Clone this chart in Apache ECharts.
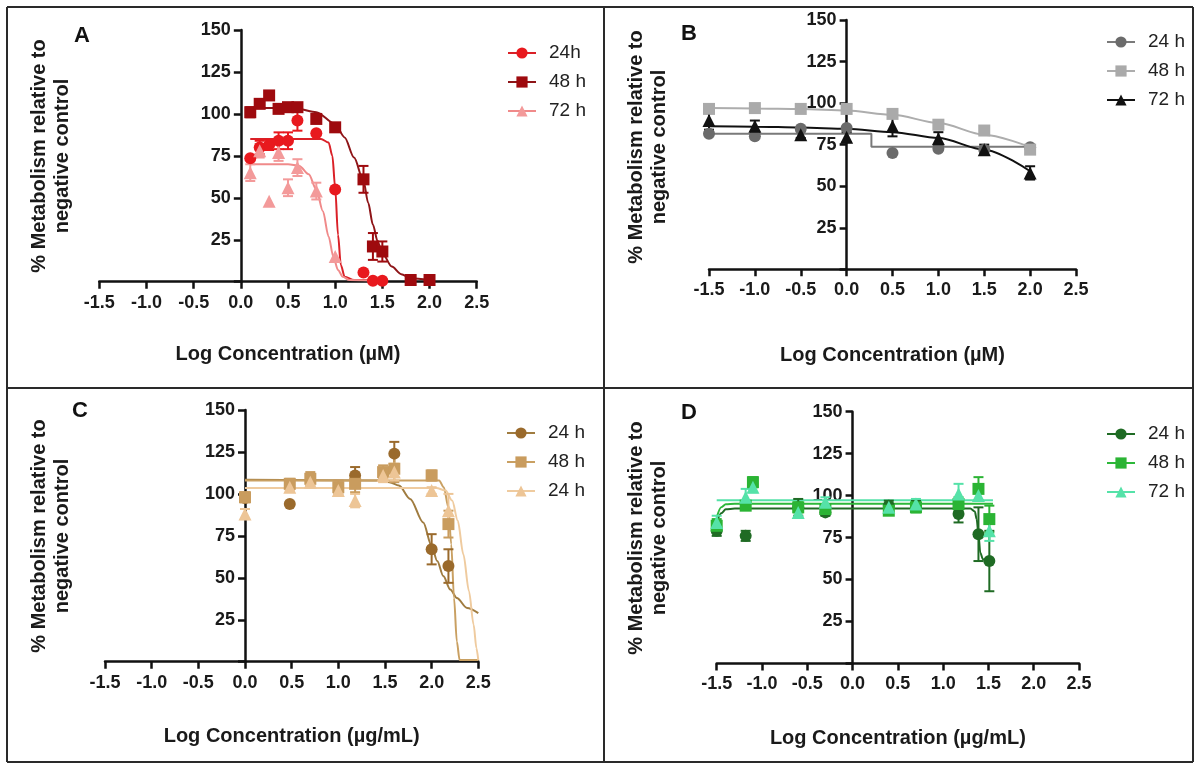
<!DOCTYPE html>
<html><head><meta charset="utf-8">
<script src="https://cdn.jsdelivr.net/npm/echarts@6/dist/echarts.min.js"></script>
<style>html,body{margin:0;padding:0;background:#fff}#c{width:1196px;height:765px}</style>
</head><body><div id="c"></div>
<script>
// ---------- tick labels ----------
const xTickLabels = ['-1.5','-1.0','-0.5','0.0','0.5','1.0','1.5','2.0','2.5'];
const yTickLabels = ['25','50','75','100','125','150'];

// ---------- Panel A (µM) ----------
const aLegend = ['24h','48 h','72 h'];
const aX24 = [0.1,0.2,0.3,0.4,0.5,0.6,0.8,1.0,1.3,1.4,1.5];
const aY24 = [73.5,80,81.5,84,84,96,88.5,55,5.5,0.5,0.5];
const aE24 = [0,4,3,5,5,6,0,0,0,0,0];
const aX48 = [0.1,0.2,0.3,0.4,0.5,0.6,0.8,1.0,1.3,1.4,1.5,1.8,2.0];
const aY48 = [101,106,111,103,104,104,97,92,61,21,18,1,1];
const aE48 = [3,0,0,0,0,0,0,0,8,8,6,0,0];
const aX72 = [0.1,0.2,0.3,0.4,0.5,0.6,0.8,1.0];
const aY72 = [65,78,48,77,56,68,54,15];
const aE72 = [5,4,0,5,5,5,5,0];
const aCurve24 = [[0.1,85],[0.5,85],[0.85,85],[0.93,83],[0.97,75],[1.0,56],[1.03,28],[1.06,10],[1.1,3],[1.2,1],[1.5,1]];
const aCurve48 = [[0.1,103.5],[0.4,103.5],[0.6,103],[0.8,101],[1.0,94],[1.1,86],[1.2,74],[1.3,60],[1.35,47],[1.4,34],[1.45,24],[1.5,17],[1.6,9],[1.7,4.5],[1.8,2],[2.0,1]];
const aCurve72 = [[0.1,70],[0.5,70],[0.62,69],[0.72,64],[0.8,55],[0.87,42],[0.93,27],[0.98,15],[1.03,7],[1.08,3],[1.15,1],[1.5,0.5]];

// ---------- Panel B (µM) ----------
const bLegend = ['24 h','48 h','72 h'];
const bX = [-1.5,-1.0,-0.5,0,0.5,1.0,1.5,2.0];
const bY24 = [81.5,80,84.5,85,70,72.5,72,73.5];
const bE24 = [0,0,0,0,0,0,0,0];
const bY48 = [96.5,97,96.5,96.5,93.5,87,83.5,72];
const bE48 = [0,0,0,0,0,0,0,0];
const bY72 = [89.5,86,81,79.5,86,78.5,72,58];
const bE72 = [5.5,3.5,2,3,6,4,3,4];
const bCurve24 = [[-1.5,81.5],[0.27,81.5],[0.27,73.8],[2.0,73.8]];
const bCurve48 = [[-1.5,97],[-1.0,96.8],[-0.5,96.5],[0,95.5],[0.5,93],[1.0,88],[1.5,81],[2.0,73.5]];
const bCurve72 = [[-1.5,86],[-1.0,85.8],[-0.5,85.3],[0,84.5],[0.5,82.5],[1.0,79],[1.5,72],[2.0,59]];

// ---------- Panel C (µg/mL) ----------
const cLegend = ['24 h','48 h','24 h'];
const cX24 = [0,0.48,1.18,1.6,2.0,2.18];
const cY24 = [97.5,94,111,124,67,57];
const cE24 = [0,0,5,7,9,10];
const cX48 = [0,0.48,0.7,1.0,1.18,1.48,1.6,2.0,2.18];
const cY48 = [98,106,109,104,106,113,115,111,82];
const cE48 = [3,3,4,4,5,4,8,3,8];
const cX72 = [0,0.48,0.7,1.0,1.18,1.48,1.6,2.0,2.18];
const cY72 = [88,104,107,102,96,111,113,102,90];
const cE72 = [3,2,3,3,4,4,5,2,10];
const cCurve24 = [[0,108.5],[1.45,108],[1.55,107],[1.65,105],[1.77,97],[1.91,83],[2.0,69],[2.06,60],[2.125,51],[2.2,43],[2.27,38],[2.38,32],[2.5,29]];
const cCurve48 = [[0,108],[2.08,108],[2.13,104],[2.18,92],[2.21,70],[2.24,38],[2.27,12],[2.3,1],[2.5,1]];
const cCurve72 = [[0,103.5],[2.05,103.5],[2.15,102],[2.22,96],[2.28,84],[2.34,64],[2.4,42],[2.45,22],[2.48,8],[2.5,1]];

// ---------- Panel D (µg/mL) ----------
const dLegend = ['24 h','48 h','72 h'];
const dX24 = [-1.5,-1.18,-0.6,-0.3,0.4,0.7,1.17,1.39,1.51];
const dY24 = [79,76,93,90,94,94,89,77,61];
const dE24 = [3,3,5,2,3,3,5,16,18];
const dX48 = [-1.5,-1.18,-1.1,-0.6,-0.3,0.4,0.7,1.17,1.39,1.51];
const dY48 = [82,94,108,93,92,91,93,95,104,86];
const dE48 = [4,2,3,3,3,2,3,4,7,8];
const dX72 = [-1.5,-1.18,-1.1,-0.6,-0.3,0.4,0.7,1.17,1.39,1.51];
const dY72 = [84,99,105,90,96,93,95,101,100,79];
const dE72 = [4,5,3,3,3,2,3,6,3,6];
const dCurve24 = [[-1.5,84],[-1.45,89.5],[-1.4,91.8],[-1.3,92.3],[1.3,92.3],[1.35,90.5],[1.37,86],[1.39,77],[1.41,66],[1.44,62],[1.5,60.5]];
const dCurve48 = [[-1.5,87],[-1.45,93],[-1.4,94.8],[-1.3,95.2],[1.55,95.2]];
const dCurve72 = [[-1.5,97.3],[1.55,97.3]];

// ---------- rendering ----------
const FONT = "'Liberation Sans', Arial, Helvetica, sans-serif";
const TXT = '#1a1a1a';
const X_MIN = -1.5, X_MAX = 2.5;
const chart = echarts.init(document.getElementById('c'), null, {renderer:'canvas'});

const grids = [
  {left:99.3, top:30, width:377.4, height:251.7},
  {left:709, top:20, width:367, height:249.3},
  {left:105, top:410, width:373.3, height:251.7},
  {left:716.7, top:411.7, width:362.3, height:251.7}
];

function xAx(i, name, gap) {
  return {
    gridIndex:i, type:'value', min:X_MIN, max:X_MAX, interval:0.5,
    name:name, nameLocation:'middle', nameGap:gap,
    nameTextStyle:{fontSize:20, fontWeight:'bold', color:TXT, fontFamily:FONT},
    axisLine:{onZero:false, lineStyle:{color:'#111', width:2.5}},
    axisTick:{show:true, length:7, lineStyle:{color:'#111', width:2.5}},
    axisLabel:{fontSize:18, fontWeight:'bold', color:TXT, fontFamily:FONT, margin:12,
      formatter:function(v){ const k = Math.round((v - X_MIN) / 0.5); return xTickLabels[k] || ''; }},
    splitLine:{show:false}
  };
}
function yAx(i) {
  // the y axis crosses the x axis at x = 0: shift it inward from the grid's left edge
  const g = grids[i];
  const shift = g.width * (0 - X_MIN) / (X_MAX - X_MIN);
  return {
    gridIndex:i, type:'value', min:0, max:150, interval:25, position:'left', offset:-shift,
    axisLine:{show:true, onZero:false, lineStyle:{color:'#111', width:2.5}},
    axisTick:{show:true, length:7, lineStyle:{color:'#111', width:2.5}},
    axisLabel:{fontSize:18, fontWeight:'bold', color:TXT, fontFamily:FONT, margin:10,
      formatter:function(v){ const k = Math.round(v / 25) - 1; return k >= 0 ? yTickLabels[k] : ''; }},
    splitLine:{show:false}
  };
}

const series = [];
function addGroup(p, key, color, lineColor, symbol, size, xs, ys, es, curve, smooth) {
  const name = key;
  series.push({
    type:'line', name:name, xAxisIndex:p, yAxisIndex:p, data:curve,
    showSymbol:false, symbol:symbol, symbolSize:size,
    smooth:smooth, smoothMonotone:'x',
    lineStyle:{color:lineColor, width:2}, itemStyle:{color:color},
    z:2, silent:true
  });
  series.push({
    type:'custom', name:name, xAxisIndex:p, yAxisIndex:p,
    data:xs.map((x,i)=>[x, ys[i], es[i]]),
    encode:{x:0, y:1}, z:3, silent:true,
    renderItem:function(params, api){
      const x = api.value(0), y = api.value(1), e = api.value(2);
      if (!e) return null;
      const t = api.coord([x, y + e]), b = api.coord([x, y - e]);
      const w = 5, st = {stroke:color, lineWidth:2};
      return {type:'group', children:[
        {type:'line', shape:{x1:t[0], y1:t[1], x2:b[0], y2:b[1]}, style:st},
        {type:'line', shape:{x1:t[0]-w, y1:t[1], x2:t[0]+w, y2:t[1]}, style:st},
        {type:'line', shape:{x1:b[0]-w, y1:b[1], x2:b[0]+w, y2:b[1]}, style:st}
      ]};
    }
  });
  series.push({
    type:'scatter', name:name, xAxisIndex:p, yAxisIndex:p,
    data:xs.map((x,i)=>[x, ys[i]]),
    symbol:symbol, symbolSize:size, itemStyle:{color:color, opacity:1}, z:4, silent:true
  });
}

// Panel A
addGroup(0, 'A1|'+aLegend[0], '#E8191E', '#DA2027', 'circle', 12, aX24, aY24, aE24, aCurve24, 0.3);
addGroup(0, 'A2|'+aLegend[1], '#9E0A0E', '#8E1518', 'rect', 12, aX48, aY48, aE48, aCurve48, 0.3);
addGroup(0, 'A3|'+aLegend[2], '#F39A9A', '#F08A8A', 'triangle', 13, aX72, aY72, aE72, aCurve72, 0.3);
// Panel B
addGroup(1, 'B1|'+bLegend[0], '#6B6B6B', '#7A7A7A', 'circle', 12, bX, bY24, bE24, bCurve24, false);
addGroup(1, 'B2|'+bLegend[1], '#AAAAAA', '#ADADAD', 'rect', 12, bX, bY48, bE48, bCurve48, 0.3);
addGroup(1, 'B3|'+bLegend[2], '#111111', '#111111', 'triangle', 13, bX, bY72, bE72, bCurve72, 0.3);
// Panel C
addGroup(2, 'C1|'+cLegend[0], '#9A6A2C', '#A07C40', 'circle', 12, cX24, cY24, cE24, cCurve24, 0.3);
addGroup(2, 'C2|'+cLegend[1], '#C99C5E', '#C9A062', 'rect', 12, cX48, cY48, cE48, cCurve48, 0.3);
addGroup(2, 'C3|'+cLegend[2], '#EDC596', '#EFCB9F', 'triangle', 13, cX72, cY72, cE72, cCurve72, 0.3);
// Panel D
addGroup(3, 'D1|'+dLegend[0], '#1F6B24', '#1F6B24', 'circle', 12, dX24, dY24, dE24, dCurve24, 0.3);
addGroup(3, 'D2|'+dLegend[1], '#2BB434', '#2DB83A', 'rect', 12, dX48, dY48, dE48, dCurve48, 0.3);
addGroup(3, 'D3|'+dLegend[2], '#55E2A8', '#55E2A8', 'triangle', 13, dX72, dY72, dE72, dCurve72, 0.3);

function legend(left, top, names) {
  return {
    orient:'vertical', left:left, top:top, itemWidth:28, itemHeight:14, itemGap:9,
    selectedMode:false, data:names,
    formatter:function(n){ return n.split('|')[1]; },
    textStyle:{fontSize:19, color:'#222', fontFamily:FONT, lineHeight:20, padding:[0,0,0,8]}
  };
}

function yTitle(x, y) {
  return {type:'text', x:x, y:y, rotation:Math.PI/2, silent:true,
    style:{text:'% Metabolism relative to\nnegative control', font:"bold 20px 'Liberation Sans', Arial, sans-serif",
      fill:TXT, align:'center', verticalAlign:'middle', lineHeight:23}};
}
function letter(x, y, t) {
  return {type:'text', x:x, y:y, silent:true,
    style:{text:t, font:"bold 22px 'Liberation Sans', Arial, sans-serif", fill:'#111', align:'center', verticalAlign:'middle'}};
}
function seg(x1,y1,x2,y2) {
  return {type:'line', silent:true, shape:{x1:x1,y1:y1,x2:x2,y2:y2}, style:{stroke:'#2a2a2a', lineWidth:2}};
}

const option = {
  animation:false,
  backgroundColor:'#ffffff',
  textStyle:{fontFamily:FONT},
  grid:grids,
  xAxis:[xAx(0,'Log Concentration (\u00b5M)',63), xAx(1,'Log Concentration (\u00b5M)',76),
         xAx(2,'Log Concentration (\u00b5g/mL)',65), xAx(3,'Log Concentration (\u00b5g/mL)',65)],
  yAxis:[yAx(0), yAx(1), yAx(2), yAx(3)],
  legend:[
    legend(502, 38, ['A1|'+aLegend[0],'A2|'+aLegend[1],'A3|'+aLegend[2]]),
    legend(1101, 27, ['B1|'+bLegend[0],'B2|'+bLegend[1],'B3|'+bLegend[2]]),
    legend(501, 418, ['C1|'+cLegend[0],'C2|'+cLegend[1],'C3|'+cLegend[2]]),
    legend(1101, 419, ['D1|'+dLegend[0],'D2|'+dLegend[1],'D3|'+dLegend[2]])
  ],
  graphic:[
    seg(7,7,1193,7), seg(7,7,7,762), seg(1193,7,1193,762), seg(7,762,1193,762),
    seg(604,7,604,762), seg(7,388,1193,388),
    yTitle(51,156), yTitle(648,147), yTitle(51,536), yTitle(648,538),
    letter(82,36,'A'), letter(689,34,'B'), letter(80,411,'C'), letter(689,413,'D')
  ],
  series:series
};
chart.setOption(option);
</script>
</body></html>
